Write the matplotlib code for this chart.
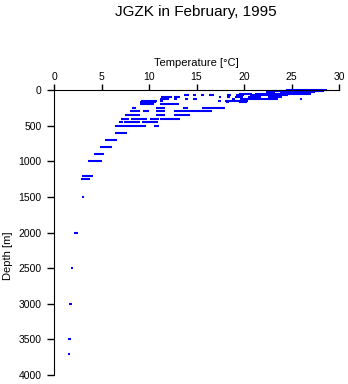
import matplotlib
matplotlib.use('Agg')
import matplotlib.pyplot as plt

plt.rcParams['font.family'] = ['Liberation Sans', 'DejaVu Sans']

# depth levels [m] and the temperature spans [degC] read at each level
depth_m = [0, 10, 20, 30, 50, 75, 100, 125, 150, 175, 200, 250, 300, 350,
           400, 450, 500, 600, 700, 800, 900, 1000, 1200, 1250, 1500,
           2000, 2500, 3000, 3500, 3700]
temp_runs = [
    [(24.4, 28.7)],
    [(24.0, 28.4)],
    [(23.0, 24.0), (24.3, 28.2)],
    [(22.3, 23.3), (23.8, 27.5)],
    [(19.5, 20.8), (21.2, 27.0)],
    [(13.7, 14.2), (14.6, 14.9), (15.5, 15.8), (16.3, 16.8), (18.2, 18.6), (19.2, 20.0), (20.6, 24.6)],
    [(11.3, 12.4), (12.6, 13.3), (17.4, 17.6), (18.2, 18.5), (19.0, 19.9), (20.4, 21.8), (22.5, 24.0)],
    [(11.2, 12.1), (12.6, 12.9), (13.8, 14.1), (14.6, 15.1), (18.7, 19.0), (19.6, 23.6), (25.9, 26.1)],
    [(9.2, 10.8), (11.2, 11.5), (17.3, 17.6), (18.0, 20.4)],
    [(9.0, 10.7), (18.1, 18.4), (19.5, 20.3)],
    [(9.1, 10.5), (11.2, 13.2)],
    [(8.2, 8.6), (10.7, 11.7), (13.6, 14.1), (15.6, 18.0)],
    [(8.0, 9.0), (9.4, 10.0), (10.7, 11.7), (12.6, 16.6)],
    [(7.5, 9.0), (10.7, 11.7), (12.6, 14.3)],
    [(7.0, 7.9), (8.1, 9.8), (10.1, 11.0), (11.2, 13.3)],
    [(6.8, 7.3), (7.4, 9.1), (9.3, 10.9)],
    [(6.4, 9.7), (10.5, 11.0)],
    [(6.4, 7.7)],
    [(5.4, 6.6)],
    [(4.8, 6.1)],
    [(4.2, 5.3)],
    [(3.6, 5.0)],
    [(2.9, 4.1)],
    [(2.8, 3.8)],
    [(2.9, 3.2)],
    [(2.1, 2.5)],
    [(1.8, 2.0)],
    [(1.55, 1.85)],
    [(1.5, 1.75)],
    [(1.45, 1.7)],
]

x_ticks = [0, 5, 10, 15, 20, 25, 30]
y_ticks = [0, 500, 1000, 1500, 2000, 2500, 3000, 3500, 4000]

fig = plt.figure(figsize=(3.48, 3.84), dpi=100)
ax = fig.add_axes([54/348, 1 - 375/384, 285/348, 285/384])

ys, x0s, x1s = [], [], []
for d, runs in zip(depth_m, temp_runs):
    for a, b in runs:
        ys.append(d)
        x0s.append(a)
        x1s.append(b)
ax.hlines(ys, x0s, x1s, colors='#0000ff', linewidth=1.5, clip_on=False)

ax.set_xlim(0, 30)
ax.set_ylim(4000, 0)
ax.set_xticks(x_ticks)
ax.set_yticks(y_ticks)

ax.spines['right'].set_visible(False)
ax.spines['bottom'].set_visible(False)
ax.xaxis.set_ticks_position('top')
ax.xaxis.set_label_position('top')
ax.tick_params(axis='x', direction='out', length=4, width=1, pad=2, labelsize=7.5)
ax.tick_params(axis='y', direction='out', length=5, width=1, pad=4, labelsize=7.5)

ax.set_xlabel('Temperature [°C]', fontsize=8, labelpad=4)
ax.set_ylabel('Depth [m]', fontsize=8)
ax.yaxis.set_label_coords(-0.145, 0.42)

fig.text(196/348, 1 - 12/384, 'JGZK in February, 1995', fontsize=11,
         ha='center', va='center')

fig.savefig('out.png', dpi=100)
